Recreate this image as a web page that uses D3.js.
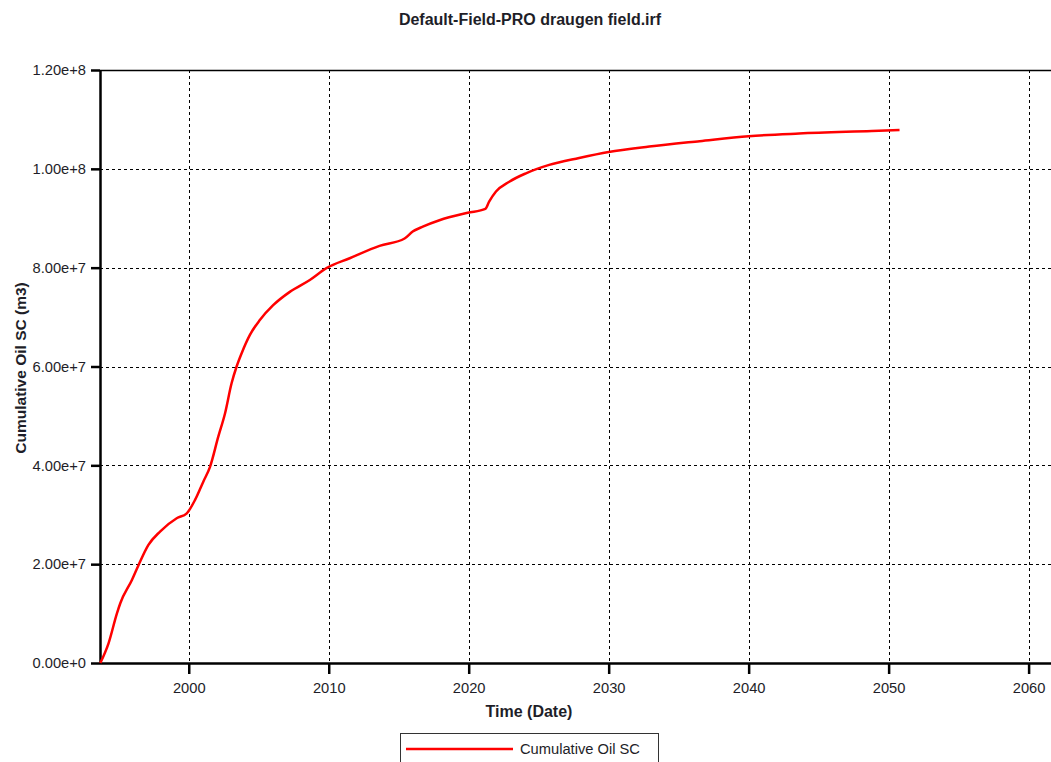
<!DOCTYPE html>
<html>
<head>
<meta charset="utf-8">
<script src="https://cdn.jsdelivr.net/npm/d3@7"></script>
<style>
  html, body { margin: 0; padding: 0; background: #fff; }
  svg { display: block; font-family: "Liberation Sans", Arial, sans-serif; }
</style>
</head>
<body>
<svg id="chart" width="1051" height="762"></svg>
<script>
// Cumulative oil production, Draugen field (decimal year, m3)
const years = [1993.68, 1994.27, 1994.87, 1995.11, 1995.94, 1996.41, 1997.12, 1997.95,
  1999.14, 1999.86, 2000.45, 2001.04, 2001.52, 2002.11, 2002.59, 2003.06, 2003.42,
  2003.78, 2004.37, 2005.08, 2006.03, 2007.22, 2008.65, 2009.84, 2011.5, 2013.63,
  2015.42, 2016.0, 2016.72, 2017.91, 2019.93, 2021.19, 2021.47, 2021.95, 2022.9,
  2024.09, 2025.75, 2027.89, 2030.0, 2032.9, 2036.5, 2040.0, 2043.6,
  2048.8, 2050.78];
const cumOil = [0, 3.99e6, 1.006e7, 1.21e7, 1.68e7, 1.98e7, 2.39e7, 2.66e7,
  2.93e7, 3.03e7, 3.30e7, 3.67e7, 3.97e7, 4.58e7, 5.05e7, 5.66e7, 6.0e7,
  6.27e7, 6.64e7, 6.94e7, 7.24e7, 7.51e7, 7.75e7, 7.99e7, 8.19e7, 8.44e7,
  8.59e7, 8.73e7, 8.83e7, 8.96e7, 9.11e7, 9.19e7, 9.34e7, 9.54e7, 9.74e7,
  9.91e7, 1.008e8, 1.022e8, 1.034e8, 1.045e8, 1.056e8, 1.066e8, 1.0715e8,
  1.0766e8, 1.0786e8];

const xTicks = [2000, 2010, 2020, 2030, 2040, 2050, 2060];
const yTicks = [0, 2e7, 4e7, 6e7, 8e7, 1e8, 1.2e8];
const yTickLabels = ["0.00e+0", "2.00e+7", "4.00e+7", "6.00e+7", "8.00e+7", "1.00e+8", "1.20e+8"];

const titleText = "Default-Field-PRO draugen field.irf";
const xTitle = "Time (Date)";
const yTitle = "Cumulative Oil SC (m3)";
const seriesName = "Cumulative Oil SC";

const svg = d3.select("#chart");
const plotLeft = 100, plotTop = 70, plotBottom = 663, plotRight = 1051;
const textColor = "#1e1e28";

const x = d3.scaleLinear().domain([1993.66, 2061.6]).range([plotLeft, plotRight]);
const y = d3.scaleLinear().domain([0, 1.2e8]).range([plotBottom, plotTop]);

// grid
const grid = svg.append("g").attr("stroke", "#000").attr("stroke-width", 1)
  .attr("stroke-dasharray", "3,3").attr("shape-rendering", "crispEdges");
grid.selectAll("line.gx").data(xTicks).join("line").attr("class", "gx")
  .attr("x1", d => Math.round(x(d)) + 0.5).attr("x2", d => Math.round(x(d)) + 0.5)
  .attr("y1", plotTop).attr("y2", plotBottom);
grid.selectAll("line.gy").data(yTicks.filter(d => d > 0 && d < 1.2e8)).join("line").attr("class", "gy")
  .attr("y1", d => Math.round(y(d)) + 0.5).attr("y2", d => Math.round(y(d)) + 0.5)
  .attr("x1", plotLeft).attr("x2", plotRight);

// top frame line
svg.append("line").attr("x1", plotLeft).attr("x2", plotRight).attr("y1", plotTop + 0.5).attr("y2", plotTop + 0.5)
  .attr("stroke", "#000").attr("stroke-width", 1.3);

// axes
const xAxis = d3.axisBottom(x).tickValues(xTicks).tickFormat(d3.format("d")).tickSize(11).tickPadding(9);
const gx = svg.append("g").attr("transform", `translate(0,${plotBottom})`).call(xAxis);
gx.select(".domain").attr("stroke-width", 2.5).attr("d", `M${plotLeft},0.5H${plotRight}`);
gx.selectAll(".tick line").attr("stroke-width", 2.5);
gx.selectAll(".tick text").attr("font-size", 14.7).attr("fill", textColor).attr("font-family", "Liberation Sans, Arial, sans-serif");

const yAxis = d3.axisLeft(y).tickValues(yTicks).tickFormat((d, i) => yTickLabels[i]).tickSize(9).tickPadding(5);
const gy = svg.append("g").attr("transform", `translate(${plotLeft},0)`).call(yAxis);
gy.select(".domain").attr("stroke-width", 2.5).attr("d", `M0.5,${plotTop}V${plotBottom}`);
gy.selectAll(".tick line").attr("stroke-width", 2.5);
gy.selectAll(".tick text").attr("font-size", 14.7).attr("fill", textColor).attr("font-family", "Liberation Sans, Arial, sans-serif");

// series
const line = d3.line().x((d, i) => x(years[i])).y(d => y(d)).curve(d3.curveMonotoneX);
svg.append("path").datum(cumOil).attr("d", line)
  .attr("fill", "none").attr("stroke", "#ff0000").attr("stroke-width", 2.5);

// titles
svg.append("text").attr("x", 530).attr("y", 25).attr("text-anchor", "middle")
  .attr("font-size", 16).attr("font-weight", "bold").attr("fill", textColor).text(titleText);
svg.append("text").attr("x", 529).attr("y", 717).attr("text-anchor", "middle")
  .attr("font-size", 16).attr("font-weight", "bold").attr("fill", textColor).text(xTitle);
svg.append("text").attr("transform", "translate(25.5,368) rotate(-90)").attr("text-anchor", "middle")
  .attr("font-size", 15.5).attr("font-weight", "bold").attr("fill", textColor).text(yTitle);

// legend
const lg = svg.append("g");
lg.append("rect").attr("x", 400.5).attr("y", 733.5).attr("width", 258).attr("height", 40)
  .attr("fill", "#fff").attr("stroke", "#333").attr("stroke-width", 1);
lg.append("line").attr("x1", 406).attr("x2", 513).attr("y1", 749).attr("y2", 749)
  .attr("stroke", "#ff0000").attr("stroke-width", 2.5);
lg.append("text").attr("x", 520).attr("y", 754).attr("font-size", 14.7).attr("fill", textColor).text(seriesName);
</script>
</body>
</html>
